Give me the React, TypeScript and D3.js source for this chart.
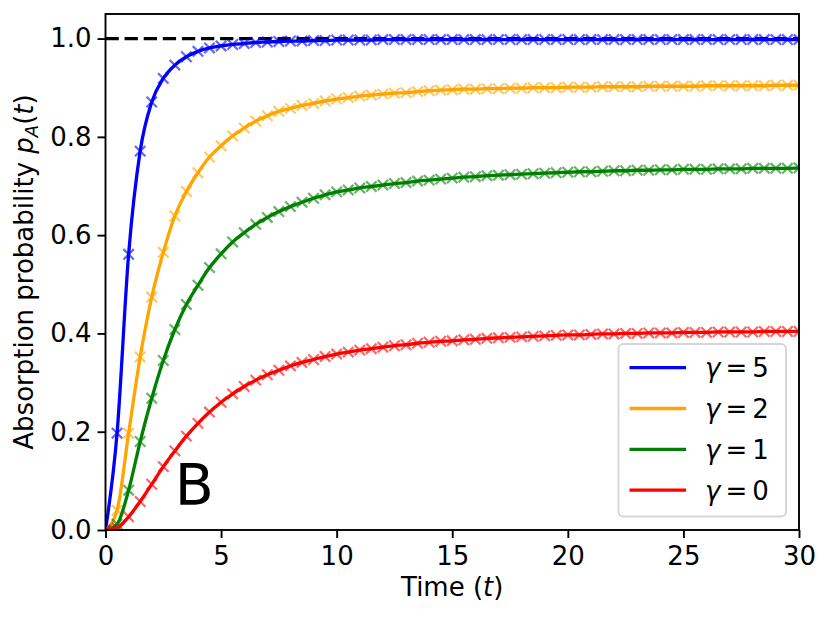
import React, { useEffect, useRef } from 'react';
import * as d3 from 'd3';

// time grid, every 0.5 from 0 to 30
const times: number[] = [
  0, 0.5, 1, 1.5, 2, 2.5, 3, 3.5, 4, 4.5, 5, 5.5, 6, 6.5, 7, 7.5, 8, 8.5, 9, 9.5,
  10, 10.5, 11, 11.5, 12, 12.5, 13, 13.5, 14, 14.5, 15, 15.5, 16, 16.5, 17, 17.5, 18, 18.5, 19, 19.5,
  20, 20.5, 21, 21.5, 22, 22.5, 23, 23.5, 24, 24.5, 25, 25.5, 26, 26.5, 27, 27.5, 28, 28.5, 29, 29.5, 30,
];

const gamma5: number[] = [
  0, 0.197, 0.561, 0.771, 0.871, 0.919, 0.946, 0.963, 0.974, 0.981,
  0.985, 0.988, 0.990, 0.992, 0.993, 0.994, 0.995, 0.995, 0.996, 0.996,
  0.997, 0.997, 0.997, 0.997, 0.998, 0.998, 0.998, 0.998, 0.998, 0.998,
  0.998, 0.998, 0.998, 0.998, 0.998, 0.998, 0.998, 0.998, 0.998, 0.998,
  0.998, 0.998, 0.998, 0.998, 0.998, 0.998, 0.998, 0.998, 0.998, 0.998,
  0.998, 0.998, 0.998, 0.998, 0.998, 0.998, 0.998, 0.998, 0.998, 0.998, 0.998,
];

const gamma2: number[] = [
  0, 0.04, 0.197, 0.352, 0.474, 0.565, 0.639, 0.689, 0.727, 0.759,
  0.782, 0.802, 0.818, 0.832, 0.843, 0.852, 0.858, 0.864, 0.868, 0.873,
  0.877, 0.880, 0.883, 0.885, 0.887, 0.889, 0.890, 0.892, 0.894, 0.895,
  0.896, 0.897, 0.897, 0.898, 0.898, 0.899, 0.899, 0.900, 0.900, 0.900,
  0.901, 0.901, 0.901, 0.902, 0.902, 0.902, 0.902, 0.903, 0.903, 0.903,
  0.903, 0.903, 0.904, 0.904, 0.904, 0.904, 0.904, 0.904, 0.905, 0.905, 0.905,
];

const gamma1: number[] = [
  0, 0.012, 0.081, 0.180, 0.268, 0.345, 0.408, 0.459, 0.498, 0.534,
  0.562, 0.586, 0.605, 0.622, 0.636, 0.648, 0.658, 0.667, 0.675, 0.682,
  0.688, 0.692, 0.696, 0.699, 0.702, 0.705, 0.707, 0.710, 0.712, 0.714,
  0.716, 0.718, 0.719, 0.721, 0.722, 0.723, 0.724, 0.725, 0.726, 0.727,
  0.728, 0.729, 0.729, 0.730, 0.731, 0.731, 0.732, 0.732, 0.733, 0.733,
  0.734, 0.734, 0.734, 0.735, 0.735, 0.735, 0.736, 0.736, 0.736, 0.736, 0.737,
];

const gamma0: number[] = [
  0, 0.004, 0.027, 0.058, 0.093, 0.129, 0.161, 0.191, 0.217, 0.240,
  0.260, 0.277, 0.292, 0.305, 0.316, 0.325, 0.334, 0.341, 0.347, 0.353,
  0.358, 0.362, 0.366, 0.369, 0.372, 0.375, 0.377, 0.380, 0.382, 0.384,
  0.385, 0.387, 0.388, 0.390, 0.391, 0.392, 0.393, 0.394, 0.395, 0.396,
  0.397, 0.397, 0.398, 0.399, 0.399, 0.400, 0.400, 0.401, 0.401, 0.401,
  0.402, 0.402, 0.402, 0.403, 0.403, 0.403, 0.403, 0.404, 0.404, 0.404, 0.404,
];

const seriesLabels: string[] = ['5', '2', '1', '0'];
const seriesColors: string[] = ['blue', 'orange', 'green', 'red'];
const seriesValues: number[][] = [gamma5, gamma2, gamma1, gamma0];

const xTicks: number[] = [0, 5, 10, 15, 20, 25, 30];
const yTicks: number[] = [0, 0.2, 0.4, 0.6, 0.8, 1.0];

const FONT = '"DejaVu Sans", sans-serif';
const FS = 26;

export default function App() {
  const svgRef = useRef<SVGSVGElement>(null);

  useEffect(() => {
    if (!svgRef.current) return;
    const svg = d3.select(svgRef.current);
    svg.selectAll('*').remove();

    const width = 830;
    const height = 618;
    const margin = { top: 14, right: 31, bottom: 88, left: 105.5 };

    const x = d3.scaleLinear().domain([0, 30]).range([margin.left, width - margin.right]);
    const y = d3.scaleLinear().domain([0, 1.05]).range([height - margin.bottom, margin.top]);

    svg.append('rect').attr('width', width).attr('height', height).attr('fill', '#fff');

    const defs = svg.append('defs');
    defs.append('clipPath').attr('id', 'plot-clip')
      .append('rect')
      .attr('x', x(0)).attr('y', y(1.05))
      .attr('width', x(30) - x(0)).attr('height', y(0) - y(1.05));

    const plot = svg.append('g').attr('clip-path', 'url(#plot-clip)');

    // asymptote
    plot.append('line')
      .attr('x1', x(0)).attr('x2', x(30))
      .attr('y1', y(1)).attr('y2', y(1))
      .attr('stroke', '#000')
      .attr('stroke-width', 3.3)
      .attr('stroke-dasharray', '13.3,5.8');

    const line = d3.line<number>()
      .x((_, i) => x(times[i]))
      .y(d => y(d))
      .curve(d3.curveMonotoneX);

    const ms = 5.2;
    seriesValues.forEach((vals, si) => {
      const color = seriesColors[si];
      const marks = plot.append('g').attr('opacity', 0.6);
      vals.forEach((v, i) => {
        const cx = x(times[i]);
        const cy = y(v);
        marks.append('path')
          .attr('d', `M${cx - ms},${cy - ms}L${cx + ms},${cy + ms}M${cx - ms},${cy + ms}L${cx + ms},${cy - ms}`)
          .attr('stroke', color)
          .attr('stroke-width', 2.2)
          .attr('fill', 'none');
      });
      plot.append('path')
        .datum(vals)
        .attr('d', line)
        .attr('fill', 'none')
        .attr('stroke', color)
        .attr('stroke-width', 3.3);
    });

    // "B" panel label
    svg.append('text')
      .attr('x', x(3))
      .attr('y', y(0.05))
      .attr('font-family', FONT)
      .attr('font-size', 57)
      .text('B');

    // axes frame
    svg.append('rect')
      .attr('x', x(0)).attr('y', y(1.05))
      .attr('width', x(30) - x(0)).attr('height', y(0) - y(1.05))
      .attr('fill', 'none')
      .attr('stroke', '#000')
      .attr('stroke-width', 1.9);

    const xAxis = svg.append('g')
      .attr('transform', `translate(0,${y(0)})`)
      .call(d3.axisBottom(x).tickValues(xTicks).tickSize(8).tickPadding(9).tickFormat(d3.format('d')));
    const yAxis = svg.append('g')
      .attr('transform', `translate(${x(0)},0)`)
      .call(d3.axisLeft(y).tickValues(yTicks).tickSize(8).tickPadding(6).tickFormat(d3.format('.1f')));

    [xAxis, yAxis].forEach(ax => {
      ax.select('.domain').remove();
      ax.selectAll('line').attr('stroke', '#000').attr('stroke-width', 1.9);
      ax.selectAll('text')
        .attr('font-family', FONT)
        .attr('font-size', FS)
        .attr('fill', '#000');
    });

    // axis labels
    const xl = svg.append('text')
      .attr('x', (x(0) + x(30)) / 2)
      .attr('y', 596)
      .attr('text-anchor', 'middle')
      .attr('font-family', FONT)
      .attr('font-size', FS);
    xl.append('tspan').text('Time (');
    xl.append('tspan').attr('font-style', 'italic').text('t');
    xl.append('tspan').text(')');

    const yl = svg.append('text')
      .attr('transform', `translate(33,${(y(0) + y(1.05)) / 2}) rotate(-90)`)
      .attr('text-anchor', 'middle')
      .attr('font-family', FONT)
      .attr('font-size', FS);
    yl.append('tspan').text('Absorption probability ');
    yl.append('tspan').attr('font-style', 'italic').text('p');
    yl.append('tspan').attr('font-style', 'italic').attr('font-size', 18).attr('dy', 5).text('A');
    yl.append('tspan').attr('dy', -5).text('(');
    yl.append('tspan').attr('font-style', 'italic').text('t');
    yl.append('tspan').text(')');

    // legend
    const lg = svg.append('g');
    lg.append('rect')
      .attr('x', 618.5).attr('y', 344)
      .attr('width', 167.5).attr('height', 172.5)
      .attr('rx', 5)
      .attr('fill', 'rgba(255,255,255,0.8)')
      .attr('stroke', '#d6d6d6')
      .attr('stroke-width', 2);
    seriesLabels.forEach((lab, i) => {
      const ly = 367.7 + i * 40.8;
      lg.append('line')
        .attr('x1', 629.5).attr('x2', 686)
        .attr('y1', ly).attr('y2', ly)
        .attr('stroke', seriesColors[i])
        .attr('stroke-width', 3.3);
      const t = lg.append('text')
        .attr('x', 705)
        .attr('y', ly + 9.5)
        .attr('font-family', FONT)
        .attr('font-size', FS);
      t.append('tspan').attr('font-style', 'italic').text('γ');
      t.append('tspan').attr('dx', 5).text('=');
      t.append('tspan').attr('dx', 5).text(lab);
    });
  }, []);

  return (
    <svg
      ref={svgRef}
      width={830}
      height={618}
      style={{ position: 'absolute', left: 0, top: 0 }}
    />
  );
}
